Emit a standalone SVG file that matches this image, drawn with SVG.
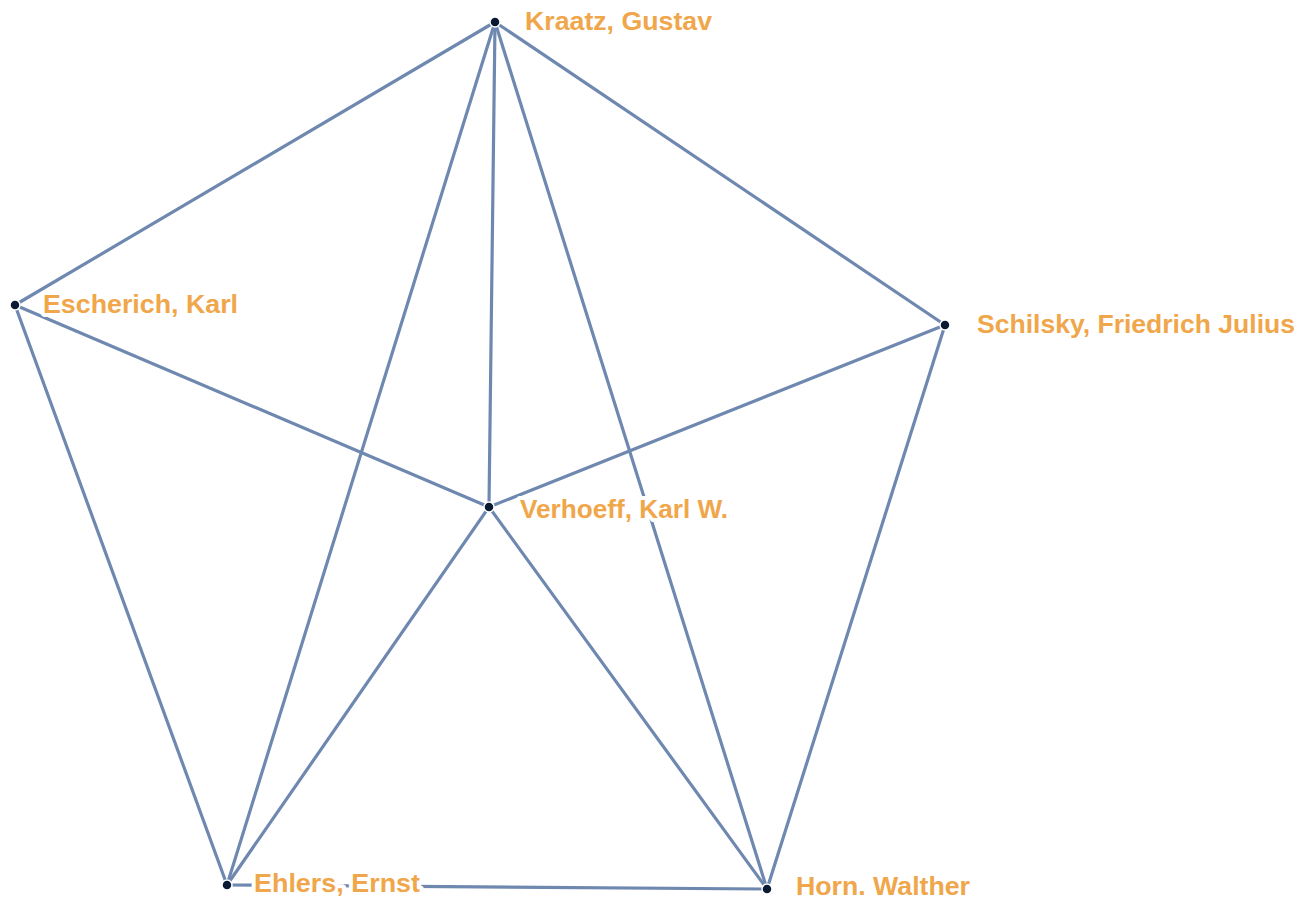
<svg xmlns="http://www.w3.org/2000/svg" width="1299" height="900" viewBox="0 0 1299 900">
<style>
.edge{stroke:#6f88b0;stroke-width:3.2;fill:none;stroke-linecap:round}
.node circle{fill:#0b1a33;stroke:#ffffff;stroke-width:1.5}
.node text{font-family:"Liberation Sans",Arial,sans-serif;font-weight:bold;font-size:26px;fill:#f0a64a;stroke:#ffffff;stroke-width:8;paint-order:stroke;stroke-linejoin:round}
</style>
<rect width="1299" height="900" fill="#ffffff"/>
<g id="connectors">
<line class="edge" x1="495" y1="22" x2="15" y2="305"/>
<line class="edge" x1="495" y1="22" x2="945" y2="325"/>
<line class="edge" x1="495" y1="22" x2="489" y2="507"/>
<line class="edge" x1="495" y1="22" x2="227" y2="885"/>
<line class="edge" x1="495" y1="22" x2="767" y2="889"/>
<line class="edge" x1="15" y1="305" x2="489" y2="507"/>
<line class="edge" x1="15" y1="305" x2="227" y2="885"/>
<line class="edge" x1="945" y1="325" x2="489" y2="507"/>
<line class="edge" x1="945" y1="325" x2="767" y2="889"/>
<line class="edge" x1="489" y1="507" x2="227" y2="885"/>
<line class="edge" x1="489" y1="507" x2="767" y2="889"/>
<line class="edge" x1="227" y1="885" x2="767" y2="889"/>
</g>
<g id="node-kraatz" class="node"><circle cx="495" cy="22" r="5"/><text x="525" y="30" textLength="187" lengthAdjust="spacingAndGlyphs">Kraatz, Gustav</text></g>
<g id="node-escherich" class="node"><circle cx="15" cy="305" r="5"/><text x="43" y="313" textLength="195" lengthAdjust="spacingAndGlyphs">Escherich, Karl</text></g>
<g id="node-schilsky" class="node"><circle cx="945" cy="325" r="5"/><text x="977" y="333" textLength="318" lengthAdjust="spacingAndGlyphs">Schilsky, Friedrich Julius</text></g>
<g id="node-verhoeff" class="node"><circle cx="489" cy="507" r="5"/><text x="520" y="518" textLength="208" lengthAdjust="spacingAndGlyphs">Verhoeff, Karl W.</text></g>
<g id="node-ehlers" class="node"><circle cx="227" cy="885" r="5"/><text x="254" y="892" textLength="166" lengthAdjust="spacingAndGlyphs">Ehlers, Ernst</text></g>
<g id="node-horn" class="node"><circle cx="767" cy="889" r="5"/><text x="796" y="895" textLength="174" lengthAdjust="spacingAndGlyphs">Horn. Walther</text></g>
</svg>
